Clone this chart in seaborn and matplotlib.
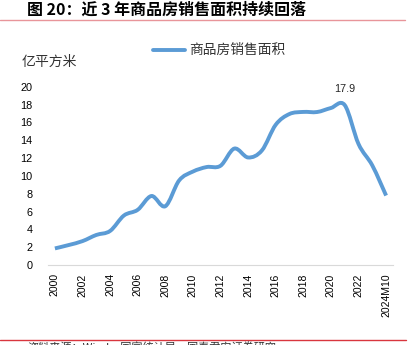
import numpy as np
import pandas as pd
import matplotlib
matplotlib.use("Agg")
import matplotlib.pyplot as plt
from matplotlib.path import Path
from matplotlib.patches import PathPatch
from matplotlib.lines import Line2D
import seaborn as sns

# Commodity housing sales area (100 million m^2)
periods = ["2000", "2001", "2002", "2003", "2004", "2005", "2006", "2007", "2008",
           "2009", "2010", "2011", "2012", "2013", "2014", "2015", "2016", "2017",
           "2018", "2019", "2020", "2021", "2022", "2023", "2024M10"]
sales_area = [1.86, 2.24, 2.68, 3.37, 3.82, 5.55, 6.19, 7.74, 6.59, 9.48, 10.48,
              10.99, 11.13, 13.06, 12.06, 12.85, 15.73, 16.94, 17.17, 17.16, 17.61,
              17.94, 13.58, 11.17, 7.79]
series_name = "商品房销售面积"
y_ticks = [0, 2, 4, 6, 8, 10, 12, 14, 16, 18, 20]
peak_label = "17.9"

sns.set_style("white")
CJK = ["Noto Sans CJK SC", "DejaVu Sans"]
NUM = ["Liberation Sans", "DejaVu Sans"]
plt.rcParams["font.family"] = CJK

BLUE = "#5B9BD5"
W, H = 417, 345
fig = plt.figure(figsize=(W / 100, H / 100), dpi=100)
ax = fig.add_axes([48 / W, 1 - 265 / H, 345 / W, (265 - 86.7) / H])

df = pd.DataFrame({"pos": np.arange(len(periods)), "value": sales_area})
sns.lineplot(data=df, x="pos", y="value", ax=ax, color=BLUE, linewidth=2.8)
raw_line = ax.lines[0]
raw_line.set_visible(False)

# smoothed curve through the data points (cubic Bezier segments)
pts = df[["pos", "value"]].to_numpy(dtype=float)
n = len(pts)
verts = [tuple(pts[0])]
codes = [Path.MOVETO]
for i in range(n - 1):
    p0 = pts[max(i - 1, 0)]
    p1 = pts[i]
    p2 = pts[i + 1]
    p3 = pts[min(i + 2, n - 1)]
    c1 = p1 + (p2 - p0) / 6.0
    c2 = p2 - (p3 - p1) / 6.0
    verts += [tuple(c1), tuple(c2), tuple(p2)]
    codes += [Path.CURVE4] * 3
ax.add_patch(PathPatch(Path(verts, codes), fill=False, edgecolor=BLUE,
                       linewidth=2.8, capstyle="butt", joinstyle="round"))

ax.set_xlim(-0.5, n - 0.5)
ax.set_ylim(0, 20)
ax.set_xlabel("")
ax.set_ylabel("")
for s in ["top", "right", "left"]:
    ax.spines[s].set_visible(False)
ax.spines["bottom"].set_color("#D9D9D9")
ax.spines["bottom"].set_linewidth(0.8)

ax.set_yticks(y_ticks)
ax.set_yticklabels([str(v) for v in y_ticks], fontsize=7.8, family=NUM, color="#000000")
ax.tick_params(axis="y", length=0, pad=11)
for lbl in ax.get_yticklabels():
    lbl.set_horizontalalignment("right")

ax.set_xticks(np.arange(-0.5, n, 1.0), minor=True)
ax.set_xticks(np.arange(0, n, 2))
ax.set_xticklabels(periods[::2], rotation=90, fontsize=7.5, family=NUM, color="#000000")
ax.tick_params(axis="x", which="major", length=0, pad=6)
ax.tick_params(axis="x", which="minor", length=4, color="#D9D9D9", width=0.8,
               direction="out")
ax.grid(False)

peak_i = int(np.argmax(sales_area))
ax.annotate(peak_label, (peak_i, sales_area[peak_i]), xytext=(0, 8),
            textcoords="offset points", ha="center", va="bottom",
            fontsize=7.8, family=NUM)

# legend
fig.add_artist(Line2D([153 / W, 185 / W], [1 - 50 / H, 1 - 50 / H], color=BLUE,
                      linewidth=2.8, transform=fig.transFigure))
fig.text(189 / W, 1 - 50 / H, series_name, fontsize=9.9, va="center", ha="left",
         color="#333333")
fig.text(22 / W, 1 - 62 / H, "亿平方米", fontsize=10, va="center", ha="left",
         color="#333333")

# header and footer
fig.text(27 / W, 1 - 10 / H, "图 20：近 3 年商品房销售面积持续回落", fontsize=11.5,
         fontweight="bold", va="center", ha="left", color="#000000")
fig.add_artist(Line2D([0, 405 / W], [1 - 20 / H, 1 - 20 / H], color="#E8959A",
                      linewidth=1.0, transform=fig.transFigure))
fig.add_artist(Line2D([0, 406 / W], [1 - 339.5 / H, 1 - 339.5 / H], color="#D9363E",
                      linewidth=1.0, transform=fig.transFigure))
fig.text(27 / W, 1 - 342 / H, "资料来源：Wind，国家统计局，国泰君安证券研究",
         fontsize=8, va="top", ha="left", color="#333333")

fig.savefig("out.png", dpi=100)
